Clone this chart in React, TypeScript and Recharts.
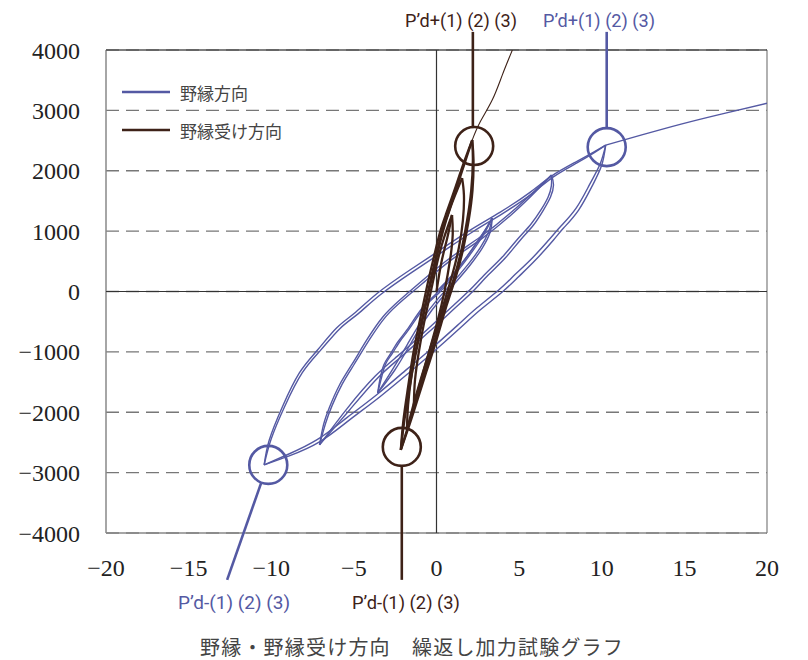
import React from 'react';
import { LineChart, Line, XAxis, YAxis, CartesianGrid, ReferenceLine, ReferenceDot, Legend } from 'recharts';

const BLUE = '#5459a3';
const BROWN = '#3e2218';

const seriesNames = ['野縁方向', '野縁受け方向'];
const xTicks = [-20, -15, -10, -5, 0, 5, 10, 15, 20];
const yTicks = [-4000, -3000, -2000, -1000, 0, 1000, 2000, 3000, 4000];
const title = '野縁・野縁受け方向　繰返し加力試験グラフ';
const peakLabelPos = 'P’d+(1) (2) (3)';
const peakLabelNeg = 'P’d-(1) (2) (3)';

// 野縁方向 (blue) hysteresis half-curves: [displacement, load]
const blueInit = [[0, 0], [1.12, 323], [2.04, 654], [2.83, 969], [3.37, 1217]];
const blueSmallUp1 = [[-3.56, -1680], [-3.43, -1465], [-3.19, -1217], [-2.83, -1051], [-2.34, -836], [-1.79, -637], [-0.82, -257], [0.03, -25], [1.12, 323], [2.04, 654], [2.83, 969], [3.37, 1217]];
const blueSmallLow1 = [[3.37, 1217], [3.25, 985], [2.77, 720], [2.04, 439], [1.12, 141], [0.21, -141], [-0.7, -472], [-1.61, -886], [-2.52, -1300], [-3.56, -1680]];
const blueSmallUp2 = [[-3.56, -1680], [-3.35, -1450], [-3.08, -1200], [-2.7, -1035], [-2.2, -820], [-1.65, -620], [-0.68, -245], [0.18, -15], [1.25, 330], [2.15, 655], [2.9, 965], [3.37, 1217]];
const blueSmallLow2 = [[3.37, 1217], [3.15, 990], [2.65, 725], [1.9, 445], [0.98, 150], [0.06, -130], [-0.85, -460], [-1.75, -870], [-2.65, -1285], [-3.56, -1680]];
const blueMedUp1 = [[-7.08, -2541], [-6.84, -2210], [-6.47, -1912], [-5.87, -1548], [-5.14, -1217], [-4.22, -803], [-3.25, -422], [-2.22, -141], [-0.82, 190], [0.82, 555], [2.64, 902], [4.47, 1300], [5.99, 1680], [6.96, 1929]];
const blueMedLow1 = [[6.96, 1929], [7.08, 1763], [6.9, 1565], [6.47, 1349], [5.87, 1101], [5.08, 853], [4.16, 555], [3.13, 273], [2.16, -8], [1.12, -273], [0.21, -505], [-1.0, -803], [-2.22, -1101], [-3.56, -1432], [-5.26, -1962], [-7.08, -2541]];
const blueMedUp2 = [[-7.08, -2541], [-6.72, -2190], [-6.32, -1890], [-5.7, -1530], [-4.98, -1205], [-4.05, -795], [-3.08, -420], [-2.05, -145], [-0.65, 180], [0.98, 540], [2.78, 885], [4.58, 1285], [6.05, 1670], [6.96, 1929]];
const blueMedLow2 = [[6.96, 1929], [6.95, 1750], [6.75, 1560], [6.32, 1350], [5.7, 1110], [4.9, 865], [3.98, 570], [2.95, 290], [1.98, 15], [0.95, -250], [0.04, -480], [-1.15, -780], [-2.38, -1075], [-3.72, -1405], [-5.4, -1935], [-7.08, -2541]];
const blueLargeUp1 = [[-10.43, -2872], [-10.12, -2459], [-9.33, -1912], [-8.3, -1349], [-7.2, -969], [-6.05, -604], [-4.95, -356], [-3.56, -25], [-1.61, 356], [0.21, 687], [2.04, 1018], [3.86, 1316], [5.68, 1647], [6.96, 1912], [8.42, 2144], [9.51, 2309], [10.24, 2425]];
const blueLargeLow1 = [[10.24, 2425], [10.0, 2094], [9.45, 1763], [8.6, 1349], [7.69, 1051], [7.08, 853], [5.99, 521], [4.95, 240], [3.98, -8], [2.64, -306], [1.43, -604], [-0.4, -1051], [-1.61, -1333], [-3.44, -1747], [-5.26, -2127], [-7.08, -2492], [-8.91, -2724], [-10.43, -2872]];
const blueLargeUp2 = [[-10.43, -2872], [-10.0, -2440], [-9.18, -1900], [-8.12, -1345], [-7.02, -975], [-5.85, -615], [-4.75, -370], [-3.38, -50], [-1.45, 325], [0.38, 660], [2.2, 990], [4.0, 1290], [5.8, 1625], [7.05, 1895], [8.5, 2130], [9.55, 2300], [10.24, 2425]];
const blueLargeLow2 = [[10.24, 2425], [9.9, 2110], [9.3, 1790], [8.45, 1380], [7.52, 1080], [6.9, 885], [5.8, 555], [4.75, 280], [3.78, 30], [2.45, -270], [1.25, -565], [-0.58, -1010], [-1.8, -1290], [-3.6, -1705], [-5.4, -2085], [-7.2, -2450], [-9.0, -2700], [-10.43, -2872]];
const blueTail = [[10.24, 2425], [12.37, 2590], [14.8, 2773], [17.23, 2939], [20.0, 3118]];

// 野縁受け方向 (brown) hysteresis half-curves
const brownInit = [[0, 0], [0.3, 488], [0.65, 886], [0.94, 1267]];
const brownSmallUp = [[-1.37, -1879], [-1.3, -1465], [-1.05, -969], [-0.72, -472], [-0.35, -8], [0.05, 488], [0.45, 886], [0.94, 1267]];
const brownSmallLow = [[0.94, 1267], [0.98, 935], [0.82, 522], [0.5, 25], [0.08, -472], [-0.42, -969], [-0.9, -1432], [-1.37, -1879]];
const brownMedUp = [[-1.79, -2293], [-1.72, -1879], [-1.5, -1382], [-1.15, -886], [-0.75, -339], [-0.38, 108], [0.0, 555], [0.38, 985], [0.85, 1399], [1.55, 1879]];
const brownMedLow = [[1.55, 1879], [1.66, 1598], [1.6, 1184], [1.35, 720], [0.95, 273], [0.42, -224], [-0.22, -803], [-0.82, -1333], [-1.35, -1830], [-1.79, -2293]];
const brownLargeUp1 = [[-2.16, -2624], [-2.0, -2127], [-1.72, -1581], [-1.4, -1018], [-1.0, -472], [-0.58, 75], [-0.2, 522], [0.2, 969], [0.6, 1300], [1.15, 1730], [1.6, 2094], [2.16, 2508]];
const brownLargeLow1 = [[2.16, 2508], [2.24, 2177], [2.18, 1680], [1.95, 1184], [1.6, 687], [1.15, 224], [0.62, -224], [0.0, -803], [-0.62, -1333], [-1.25, -1879], [-1.7, -2260], [-2.16, -2624]];
const brownLargeUp2 = [[-2.16, -2624], [-1.93, -2110], [-1.62, -1570], [-1.28, -1010], [-0.88, -470], [-0.45, 75], [-0.08, 520], [0.3, 960], [0.7, 1290], [1.22, 1720], [1.66, 2090], [2.16, 2508]];
const brownLargeLow2 = [[2.16, 2508], [2.2, 2170], [2.1, 1670], [1.85, 1175], [1.5, 680], [1.05, 220], [0.52, -225], [-0.1, -800], [-0.7, -1330], [-1.3, -1875], [-1.74, -2255], [-2.16, -2624]];
const brownTail = [[2.16, 2508], [2.64, 2806], [3.37, 3170], [3.98, 3584], [4.59, 3998]];

// annotation markers (data coords)
const circles = [
  { x: 10.3, y: 2392, c: BLUE },
  { x: -10.18, y: -2872, c: BLUE },
  { x: 2.28, y: 2409, c: BROWN },
  { x: -2.1, y: -2574, c: BROWN },
];
const leaders = [
  { a: { x: 10.3, y: 2690 }, b: { x: 10.3, y: 4300 }, c: BLUE },
  { a: { x: 2.2, y: 2707 }, b: { x: 2.2, y: 4300 }, c: BROWN },
  { a: { x: -10.61, y: -3170 }, b: { x: -12.67, y: -4776 }, c: BLUE },
  { a: { x: -2.1, y: -2889 }, b: { x: -2.1, y: -4776 }, c: BROWN },
];

const blueSegs = [blueInit, blueSmallLow1, blueSmallUp1, blueSmallLow2, blueSmallUp2, blueMedUp1, blueMedLow1, blueMedUp2, blueMedLow2, blueLargeUp1, blueLargeLow1, blueLargeUp2, blueLargeLow2, blueTail];
const brownSegs = [brownInit, brownSmallLow, brownSmallUp, brownMedUp, brownMedLow, brownLargeUp1, brownLargeLow1, brownLargeUp2, brownLargeLow2];

const toPts = (a: number[][]) => a.map(([x, y]) => ({ x, y }));
const fmt = (v: number) => String(v).replace('-', '\u2212');

const tickFont = { fontFamily: '"Liberation Serif", serif', fontSize: 24, fill: '#222' };
const labelFont = '"Liberation Sans Narrow", "Roboto", "Noto Sans", sans-serif';
const cjkFont = '"Noto Sans CJK JP", "Noto Sans", sans-serif';

const LegendContent = () => (
  <svg width={240} height={62}>
    <line x1={0} y1={12} x2={48} y2={12} stroke={BLUE} strokeWidth={2.5} />
    <text x={58} y={12} dominantBaseline="central" fontSize={17} fill="#444" fontFamily={cjkFont}>{seriesNames[0]}</text>
    <line x1={0} y1={50} x2={48} y2={50} stroke={BROWN} strokeWidth={2.5} />
    <text x={58} y={50} dominantBaseline="central" fontSize={17} fill="#444" fontFamily={cjkFont}>{seriesNames[1]}</text>
  </svg>
);

export default function App() {
  return (
    <div style={{ position: 'relative', width: 792, height: 652 }}>
      <style>{'body{overflow:hidden}'}</style>
      <LineChart width={792} height={652} margin={{ top: 42, left: 18, right: 33, bottom: 87 }}>
        <CartesianGrid horizontal vertical={false} stroke="#777" strokeDasharray="13 7" strokeWidth={1.3} />
        <XAxis type="number" dataKey="x" domain={[-20, 20]} ticks={xTicks} allowDataOverflow axisLine={false} tickLine={false} tickSize={0} tickMargin={26} height={40} tick={tickFont} tickFormatter={fmt} interval={0} />
        <YAxis type="number" dataKey="y" domain={[-4000, 4000]} ticks={yTicks} allowDataOverflow axisLine={false} tickLine={false} tickSize={0} tickMargin={26} width={80} tick={tickFont} tickFormatter={fmt} interval={0} />
        <ReferenceLine x={-20} stroke="#888" strokeWidth={1.5} />
        <ReferenceLine x={20} stroke="#888" strokeWidth={1.3} />
        <ReferenceLine y={4000} stroke="#555" strokeWidth={1.3} />
        <ReferenceLine y={-4000} stroke="#888" strokeWidth={1.3} />
        <ReferenceLine y={0} stroke="#333" strokeWidth={1.2} />
        <ReferenceLine x={0} stroke="#333" strokeWidth={1.2} />
        <Legend layout="vertical" align="center" verticalAlign="middle" wrapperStyle={{ left: 114, top: 72, width: 240, height: 62 }} content={() => <LegendContent />} />
        {blueSegs.map((s, i) => (
          <Line key={'b' + i} data={toPts(s)} dataKey="y" type="natural" stroke={BLUE} strokeWidth={1.4} dot={false} activeDot={false} isAnimationActive={false} legendType="none" />
        ))}
        {brownSegs.map((s, i) => (
          <Line key={'r' + i} data={toPts(s)} dataKey="y" type="natural" stroke={BROWN} strokeWidth={2.3} dot={false} activeDot={false} isAnimationActive={false} legendType="none" />
        ))}
        <Line data={toPts(brownTail)} dataKey="y" type="natural" stroke={BROWN} strokeWidth={1.1} dot={false} activeDot={false} isAnimationActive={false} legendType="none" />
        {circles.map((c, i) => (
          <ReferenceDot key={'c' + i} x={c.x} y={c.y} r={19} fill="none" stroke={c.c} strokeWidth={2.6} />
        ))}
        {leaders.map((l, i) => (
          <ReferenceLine key={'l' + i} segment={[l.a, l.b]} stroke={l.c} strokeWidth={2.6} ifOverflow="visible" />
        ))}
      </LineChart>
      <svg width={792} height={652} style={{ position: 'absolute', left: 0, top: 0, pointerEvents: 'none' }}>
        <text x={453} y={12} textAnchor="middle" dominantBaseline="central" fontSize={19} fill={BROWN} fontFamily={labelFont} textLength={112} lengthAdjust="spacingAndGlyphs">{peakLabelPos}</text>
        <text x={591} y={12} textAnchor="middle" dominantBaseline="central" fontSize={19} fill={BLUE} fontFamily={labelFont} textLength={112} lengthAdjust="spacingAndGlyphs">{peakLabelPos}</text>
        <text x={226} y={594} textAnchor="middle" dominantBaseline="central" fontSize={19} fill={BLUE} fontFamily={labelFont} textLength={112} lengthAdjust="spacingAndGlyphs">{peakLabelNeg}</text>
        <text x={398} y={594} textAnchor="middle" dominantBaseline="central" fontSize={19} fill={BROWN} fontFamily={labelFont} textLength={108} lengthAdjust="spacingAndGlyphs">{peakLabelNeg}</text>
        <text x={404} y={638} textAnchor="middle" dominantBaseline="central" fontSize={20} fill="#444" fontFamily={cjkFont} letterSpacing={1.2}>{title}</text>
      </svg>
    </div>
  );
}
